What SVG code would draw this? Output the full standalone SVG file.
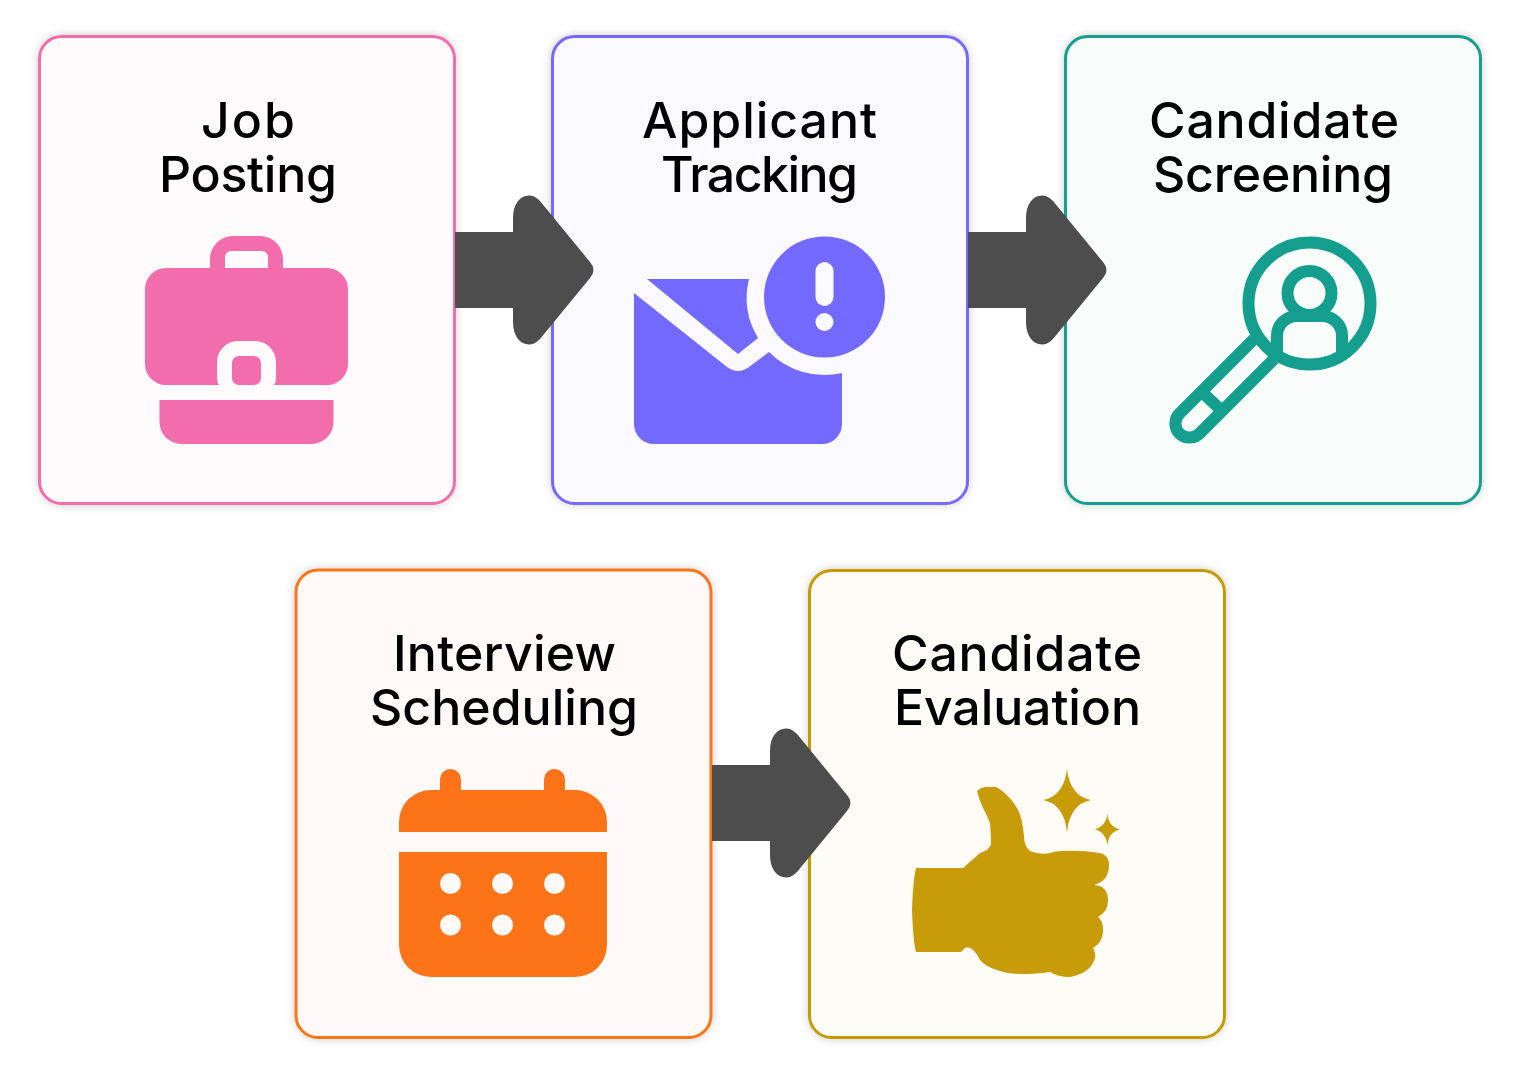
<svg xmlns="http://www.w3.org/2000/svg" width="1520" height="1074" viewBox="0 0 1520 1074">
<defs>
<filter id="sh" x="-10%" y="-10%" width="120%" height="120%"><feDropShadow dx="0" dy="0" stdDeviation="4" flood-color="#000" flood-opacity="0.2"/></filter>
<path id="arrow" d="M0 -38H58V-52C58 -66 65 -74.500 74 -74.500C78 -74.500 81 -73 85 -69L135 -8Q142 0 135 8L85 69C81 73 78 74.500 74 74.500C65 74.500 58 66 58 52V38H0Z" fill="#4d4d4d"/>
</defs>
<style>
.card{stroke-width:3;filter:url(#sh)}
.t{font-family:"Inter","Liberation Sans",sans-serif;font-size:50px;font-weight:500;fill:#000;text-anchor:middle}
</style>
<rect width="1520" height="1074" fill="#fff"/>
<g id="node-job-posting">
<rect class="card" x="39.500" y="36.500" width="415" height="467" rx="22" fill="#fffafc" stroke="#f36cac"/>
<text class="t" x="248" y="138" textLength="94">Job</text><text class="t" x="248" y="192" textLength="178">Posting</text>
<path fill="#f36cac" fill-rule="evenodd" d="M210 268V259A23 23 0 0 1 233 236H260A23 23 0 0 1 283 259V268H327A21 21 0 0 1 348 289V364A21 21 0 0 1 327 385H274Q276 382 276 378V362A21 21 0 0 0 255 341H238A21 21 0 0 0 217 362V378Q217 382 219 385H166A21 21 0 0 1 145 364V289A21 21 0 0 1 166 268ZM225 268H268V257A6 6 0 0 0 262 251H231A6 6 0 0 0 225 257Z"/>
<path fill="#f36cac" d="M232 363A7 7 0 0 1 239 356H254A7 7 0 0 1 261 363V378A7 7 0 0 1 254 385H239A7 7 0 0 1 232 378Z"/>
<path fill="#f36cac" d="M159.500 400H333.500V422A22 22 0 0 1 311.500 444H181.500A22 22 0 0 1 159.500 422Z"/>
</g>
<g id="node-applicant-tracking">
<rect class="card" x="552.500" y="36.500" width="415" height="467" rx="22" fill="#f9f9ff" stroke="#7469ff"/>
<text class="t" x="759.500" y="138" textLength="235">Applicant</text><text class="t" x="759.500" y="192" textLength="197">Tracking</text>
<path fill="#7469ff" d="M647 279H749A78 78 0 0 0 758 338L738 354Z"/>
<path fill="#7469ff" d="M634 293L727 367Q738 375 749 367L769 352A78 78 0 0 0 842 373V424A20 20 0 0 1 822 444H654A20 20 0 0 1 634 424Z"/>
<circle cx="824.500" cy="297" r="60.500" fill="#7469ff"/>
<rect x="815.500" y="262" width="18" height="44" rx="9" fill="#f9f9ff"/>
<circle cx="824.500" cy="322" r="9" fill="#f9f9ff"/>
</g>
<g id="node-candidate-screening">
<rect class="card" x="1065.500" y="36.500" width="415" height="467" rx="22" fill="#f8fcfb" stroke="#149e8e"/>
<text class="t" x="1274" y="138" textLength="250">Candidate</text><text class="t" x="1273" y="192" textLength="240">Screening</text>
<g fill="none" stroke="#149e8e" stroke-width="12">
<circle cx="1309.500" cy="303.500" r="61"/>
<circle cx="1309.500" cy="293" r="22"/>
<path d="M1277 355V336A20 20 0 0 1 1297 316H1322A20 20 0 0 1 1342 336V355"/>
<path d="M1254 339L1179.500 413.500A14 14 0 0 0 1199.500 433.500L1274 359"/>
<path d="M1202 392L1222 411"/>
</g>
</g>
<g id="node-interview-scheduling">
<rect class="card" x="296" y="570" width="415" height="467.500" rx="22" fill="#fffaf7" stroke="#fc7417"/>
<text class="t" x="504.500" y="671" textLength="223">Interview</text><text class="t" x="504" y="725" textLength="268">Scheduling</text>
<path fill="#fc7417" d="M440 790V779.500A10.500 10.500 0 0 1 461 779.500V790H544V779.500A10.500 10.500 0 0 1 565 779.500V790H575A32 32 0 0 1 607 822V832H399V822A32 32 0 0 1 431 790Z"/>
<path fill="#fc7417" d="M399 852H607V945A32 32 0 0 1 575 977H431A32 32 0 0 1 399 945Z"/>
<g fill="#fffaf7">
<circle cx="450.500" cy="883.500" r="10.500"/><circle cx="502.500" cy="883.500" r="10.500"/><circle cx="554.500" cy="883.500" r="10.500"/>
<circle cx="450.500" cy="925" r="10.500"/><circle cx="502.500" cy="925" r="10.500"/><circle cx="554.500" cy="925" r="10.500"/>
</g>
</g>
<g id="node-candidate-evaluation">
<rect class="card" x="809.500" y="570.500" width="415" height="467" rx="22" fill="#fdfcf7" stroke="#c69a06"/>
<text class="t" x="1017" y="671" textLength="250">Candidate</text><text class="t" x="1017.500" y="725" textLength="247">Evaluation</text>
<path fill="#c89b08" d="M977 791Q983 786 990 787Q995 786 998 788C1007 794 1014 802 1018 810C1022 818 1023 827 1024 836Q1024 846 1030 851Q1040 855 1050 853Q1055 851 1062 851Q1080 850 1100 853Q1109 855 1109 865Q1109 881 1094 885Q1108 886 1108 900Q1108 912 1098 917Q1104 922 1103 932Q1102 943 1093 948Q1097 955 1094 961Q1089 973 1070 977Q1058 977 1050 972Q1035 974 1023 974Q1007 974 997 970Q986 967 980 960Q975 950 970 948Q965 946 963 950Q962 952 960 952H916Q913 940 912 910Q913 880 916 868H963L980 853Q985 851 987 850L991 845Q991 833 990 823Q987 815 983 808Q978 796 977 791Z"/>
<path fill="#c89b08" d="M1067 769Q1070 796 1091 800Q1070 804 1067 832Q1064 804 1043 800Q1064 796 1067 769Z"/>
<path fill="#c89b08" d="M1107.500 814Q1108 826 1120 829.500Q1108 832 1107.500 846Q1106 832 1095 829.500Q1106 826 1107.500 814Z"/>
</g>
<g id="connectors">
<use href="#arrow" x="455" y="270"/>
<use href="#arrow" x="968" y="270"/>
<use href="#arrow" x="712" y="803"/>
</g>
</svg>
